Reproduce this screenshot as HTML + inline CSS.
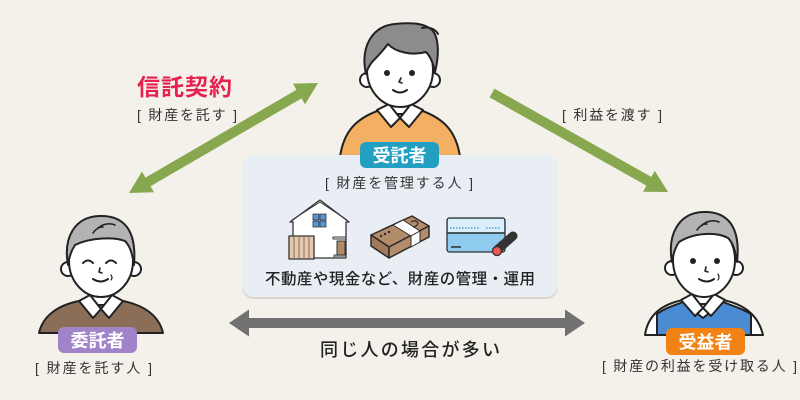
<!DOCTYPE html>
<html><head><meta charset="utf-8"><style>
html,body{margin:0;padding:0;background:#f4f1ea;}
svg{display:block;}
text{font-family:"Liberation Sans","Noto Sans CJK JP",sans-serif;}
</style></head><body>
<svg width="800" height="400" viewBox="0 0 800 400" xmlns="http://www.w3.org/2000/svg">
<rect width="800" height="400" fill="#f4f1ea"/>

<!-- Green arrow left (double) -->
<g transform="translate(129,193) rotate(-30.2)" fill="#87a84f">
  <polygon points="0,0 22,-12 22,-5 196.7,-5 196.7,-12 218.7,0 196.7,12 196.7,5 22,5 22,12"/>
</g>
<!-- Green arrow right (single) -->
<g transform="translate(492,93) rotate(29.36)" fill="#87a84f">
  <polygon points="0,-5 180,-5 180,-12 202,0 180,12 180,5 0,5"/>
</g>
<!-- Gray double arrow -->
<polygon fill="#717171" points="229,323 249,309.5 249,318 565,318 565,309.5 585,323 565,336.5 565,328 249,328 249,336.5"/>

<!-- Labels -->
<text x="137" y="95" font-size="23" font-weight="bold" fill="#e4214f" textLength="95">信託契約</text>
<text x="137" y="120" font-size="14" fill="#333" textLength="100">[ 財産を託す ]</text>
<text x="562" y="120" font-size="14" fill="#333" textLength="100">[ 利益を渡す ]</text>

<!-- Top person -->
<g transform="translate(400,22)" stroke="#222" stroke-width="2" stroke-linejoin="round" stroke-linecap="round">
  <path d="M-60,135 C-56,106 -40,95 -20,88 L20,88 C40,95 56,106 60,135 Z" fill="#f3b062"/>
  <path d="M-10,72 L-10,92 L10,92 L10,72 Z" fill="#fff"/>
  <path d="M-23,88 L-11,82 L0,96 L-9,105 Z" fill="#fff"/>
  <path d="M23,88 L11,82 L0,96 L9,105 Z" fill="#fff"/>
  <circle cx="-33" cy="58" r="7" fill="#fff"/>
  <circle cx="33" cy="58" r="7" fill="#fff"/>
  <ellipse cx="0" cy="48" rx="33" ry="37" fill="#fff"/>
  <path d="M-34,52 C-40,25 -28,4 -5,2 C15,0 25,2 32,8 C38,14 40,30 35,50 C33,40 30,34 26,30 C12,34 -5,30 -12,22 C-18,30 -24,36 -28,40 C-31,44 -33,48 -34,52 Z" fill="#8c8c8c"/>
  <path d="M22,6 C30,4 36,8 38,12" fill="none"/>
  <circle cx="-13" cy="51" r="3" fill="#222" stroke="none"/>
  <circle cx="12" cy="51" r="3" fill="#222" stroke="none"/>
  <path d="M1,56 L-1,60 L2,61" fill="none" stroke-width="1.6"/>
  <path d="M-7,68 Q0,73 7,68" fill="none"/>
</g>

<!-- Central panel -->
<rect x="242" y="157" width="316" height="142" rx="12" fill="#d9d5cc"/>
<rect x="242" y="155" width="316" height="142" rx="12" fill="#e9eef5"/>
<rect x="360" y="142" width="79" height="26" rx="6" fill="#239fc1"/>
<text x="399.5" y="162" font-size="18" font-weight="bold" fill="#fff" text-anchor="middle">受託者</text>
<text x="325" y="188" font-size="14" fill="#333" textLength="148">[ 財産を管理する人 ]</text>

<!-- House -->
<g stroke="#333" stroke-width="1.3" stroke-linejoin="round">
  <polygon points="320,200 349,222 346,222 346,258 293,258 293,222 290,222" fill="#fff"/>
  <polyline points="292,220 320,202 347,220" fill="none" stroke-width="1"/>
  <rect x="313" y="214" width="6" height="6" fill="#5a96d6" stroke-width="0.8"/>
  <rect x="320" y="214" width="6" height="6" fill="#5a96d6" stroke-width="0.8"/>
  <rect x="313" y="221" width="6" height="6" fill="#5a96d6" stroke-width="0.8"/>
  <rect x="320" y="221" width="6" height="6" fill="#5a96d6" stroke-width="0.8"/>
  <rect x="333" y="237" width="13" height="2" fill="#fff" stroke-width="1"/>
  <rect x="337" y="241" width="8" height="14" fill="#b08a6a" stroke-width="1"/>
  <rect x="334" y="255" width="12" height="3" fill="#999" stroke-width="0.8"/>
  <rect x="289" y="236" width="25" height="23" fill="#e5c9b1"/>
  <path d="M294,237 V258 M299,237 V258 M304,237 V258 M309,237 V258" stroke="#8a6a55" stroke-width="1"/>
</g>

<!-- Money -->
<g stroke="#2f2a26" stroke-width="1.5" stroke-linejoin="round">
  <polygon points="371,235 412,216 429,226 389,247" fill="#b38c6c"/>
  <polygon points="371,235 389,247 389,258 371,246" fill="#a07a5b"/>
  <polygon points="389,247 429,226 429,237 389,258" fill="#b38c6c"/>
  <polygon points="393,225 403,220 420,231 411,236" fill="#fff" stroke-width="1"/>
  <polygon points="411,236 420,231 420,242 411,247" fill="#fff" stroke-width="1"/>
  <circle cx="381" cy="236" r="1.2" fill="#2f2a26" stroke="none"/>
  <circle cx="385" cy="234" r="1.2" fill="#2f2a26" stroke="none"/>
  <circle cx="389" cy="232" r="1.2" fill="#2f2a26" stroke="none"/>
  <path d="M411,222 q4,-3 7,1 q0,3 -5,4" fill="none" stroke-width="1.2"/>
</g>

<!-- Card -->
<g stroke="#2f2f2f" stroke-width="1.3">
  <rect x="447" y="218" width="58" height="34" rx="2.5" fill="#8ecbee"/>
  <rect x="448" y="219" width="56" height="13" fill="#dbeefa" stroke="none"/>
  <line x1="447" y1="233" x2="505" y2="233" stroke-width="1.6"/>
  <line x1="451" y1="247" x2="461" y2="247" stroke-width="1.5"/>
  <path d="M450,228 H480 M486,228 H500" stroke="#4a9ed8" stroke-width="1.5" stroke-dasharray="1.5 1.5"/>
  <line x1="497" y1="250" x2="513" y2="236" stroke="#333" stroke-width="9" stroke-linecap="round"/>
  <circle cx="497" cy="251" r="4.5" fill="#e8585a" stroke-width="1.3"/>
</g>

<text x="265" y="284" font-size="15.5" font-weight="500" fill="#222" textLength="270">不動産や現金など、財産の管理・運用</text>

<!-- Left person -->
<g transform="translate(101,215)" stroke="#222" stroke-width="2" stroke-linejoin="round" stroke-linecap="round">
  <path d="M-62,118 C-58,100 -42,90 -22,86 L22,86 C42,90 58,100 62,118 Z" fill="#8a6e58"/>
  <path d="M-10,70 L-10,90 L10,90 L10,70 Z" fill="#fff"/>
  <path d="M-22,86 L-11,80 L0,94 L-8,103 Z" fill="#fff"/>
  <path d="M22,86 L11,80 L0,94 L8,103 Z" fill="#fff"/>
  <circle cx="-33" cy="54" r="7" fill="#fff"/>
  <circle cx="33" cy="54" r="7" fill="#fff"/>
  <ellipse cx="0" cy="46" rx="32" ry="36" fill="#fff"/>
  <path d="M-33,50 C-38,22 -26,2 -2,1 C22,0 36,14 33,50 C31,36 28,30 24,26 C14,22 -10,22 -26,30 C-30,36 -32,42 -33,50 Z" fill="#b3b3b3"/>
  <path d="M-4,14 C2,8 10,8 14,10 M-8,18 C-4,12 0,12 2,12" fill="none" stroke-width="1.6"/>
  <path d="M-18,48 Q-13,43 -8,48" fill="none"/>
  <path d="M5,48 Q10,43 15,48" fill="none"/>
  <path d="M-1,53 L-2,57 L1,58" fill="none" stroke-width="1.6"/>
  <path d="M-8,64 Q0,69 7,64" fill="none"/>
  <path d="M10,60 Q12,63 10,65" fill="none" stroke-width="1.2"/>
</g>
<rect x="58" y="327" width="79" height="26" rx="6" fill="#a183c9"/>
<text x="97.5" y="347" font-size="18" font-weight="bold" fill="#fff" text-anchor="middle">委託者</text>
<text x="35" y="373" font-size="14" fill="#333" textLength="117">[ 財産を託す人 ]</text>

<!-- Right person -->
<g transform="translate(703,210)" stroke="#222" stroke-width="2" stroke-linejoin="round" stroke-linecap="round">
  <path d="M-58,125 C-55,104 -40,94 -20,90 L20,90 C40,94 55,104 60,125 Z" fill="#fff"/>
  <path d="M-46,125 L-46,104 C-38,98 -30,96 -20,92 L0,108 L20,92 C30,96 38,98 48,104 L48,125 Z" fill="#4a8bd3"/>
  <path d="M-10,74 L-10,94 L10,94 L10,74 Z" fill="#fff"/>
  <path d="M-22,90 L-11,84 L0,98 L-8,106 Z" fill="#fff"/>
  <path d="M22,90 L11,84 L0,98 L8,106 Z" fill="#fff"/>
  <circle cx="-31" cy="58" r="7" fill="#fff"/>
  <circle cx="33" cy="58" r="7" fill="#fff"/>
  <ellipse cx="1" cy="50" rx="31" ry="37" fill="#fff"/>
  <path d="M-31,52 C-36,24 -24,3 0,2 C24,1 38,16 34,52 C32,38 29,32 25,28 C14,22 -8,22 -24,32 C-28,38 -30,44 -31,52 Z" fill="#b3b3b3"/>
  <path d="M-2,16 C4,10 12,10 16,12 M-6,20 C-2,14 2,14 4,14" fill="none" stroke-width="1.6"/>
  <circle cx="-10" cy="51" r="3" fill="#222" stroke="none"/>
  <circle cx="14" cy="51" r="3" fill="#222" stroke="none"/>
  <path d="M3,57 L2,61 L5,62" fill="none" stroke-width="1.6"/>
  <path d="M-4,69 Q4,74 11,69" fill="none"/>
  <path d="M15,64 Q17,67 15,70" fill="none" stroke-width="1.2"/>
</g>
<rect x="666" y="328" width="79" height="27" rx="6" fill="#f28214"/>
<text x="705.5" y="348.5" font-size="18" font-weight="bold" fill="#fff" text-anchor="middle">受益者</text>
<text x="602" y="371" font-size="14" fill="#333" textLength="195">[ 財産の利益を受け取る人 ]</text>

<text x="320" y="356" font-size="18" font-weight="500" fill="#222" textLength="180">同じ人の場合が多い</text>
</svg>
</body></html>
